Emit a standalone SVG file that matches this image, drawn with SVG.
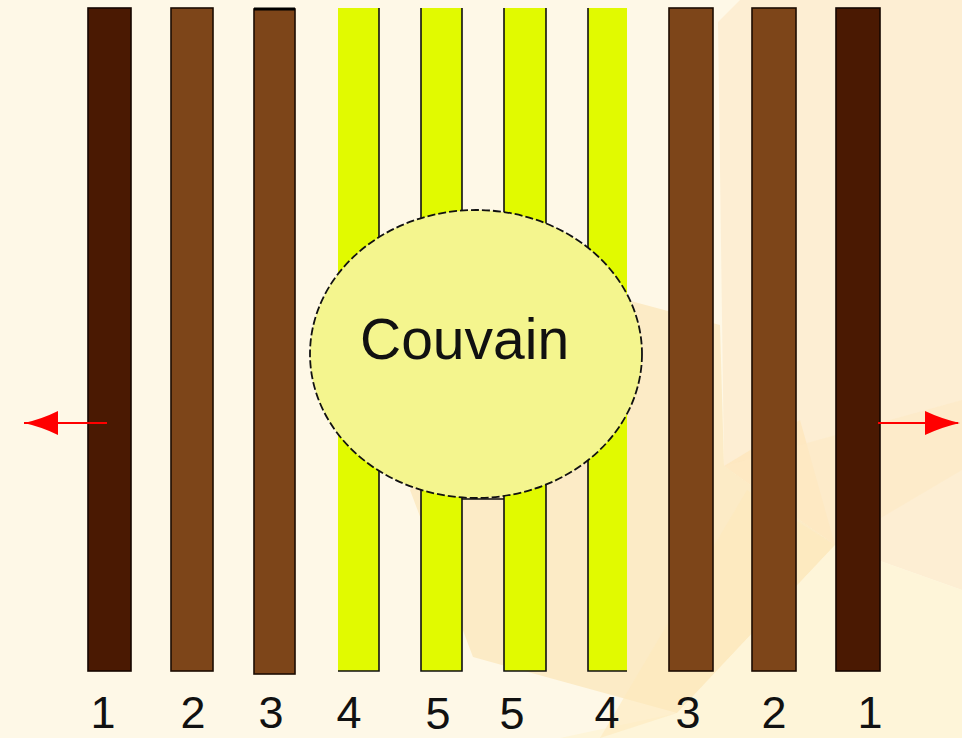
<svg xmlns="http://www.w3.org/2000/svg" width="962" height="738" viewBox="0 0 962 738">
  <style>
    .dark { fill: #4a1902; stroke: #140600; stroke-width: 1.6; }
    .mid { fill: #7d4519; stroke: #1c0c02; stroke-width: 1.6; }
    .yel { fill: #e1fa00; }
    .edge { stroke: #111; stroke-width: 1.6; fill: none; }
    .num { font-family: "Liberation Sans", Arial, sans-serif; font-size: 45px; fill: #111; text-anchor: middle; }
    .arrow { stroke: #ff0000; stroke-width: 2; fill: none; }
    .head { fill: #ff0000; }
  </style>

  <g id="background">
    <rect x="0" y="0" width="962" height="738" fill="#fef8e7"/>
    <polygon points="740,0 962,0 962,590 835,545 724,466 718,22" fill="#fdeed3"/>
    <polygon points="560,282 720,325 724,466 835,545 677,713 473,657 410,490" fill="#fcebc6"/>
    <polygon points="724,466 800,420 835,545" fill="#fde6b9" opacity="0.7"/>
    <polygon points="677,713 835,545 962,590 962,738 560,738" fill="#fef5d9"/>
    <polygon points="600,738 747,490 835,545 677,713" fill="#fde9bd" opacity="0.6"/>
    <polygon points="962,400 962,470 835,545 724,466" fill="#fde9c5" opacity="0.6"/>
  </g>

  <g id="bar-1-left"><rect class="dark" x="88" y="8" width="43" height="663"/></g>
  <g id="bar-2-left"><rect class="mid" x="171" y="8" width="42" height="663"/></g>
  <g id="bar-3-left">
    <rect class="mid" x="254" y="9" width="41" height="665"/>
    <line x1="254" y1="9" x2="295" y2="9" stroke="#000" stroke-width="3"/>
  </g>
  <g id="bar-4-left">
    <rect class="yel" x="338" y="8" width="41" height="663"/>
    <path class="edge" d="M379,8 V671 H338"/>
  </g>
  <g id="bar-5-left">
    <rect class="yel" x="421" y="8" width="41" height="663"/>
    <path class="edge" d="M421,8 V671 H462 V8"/>
  </g>
  <g id="bar-5-right">
    <rect class="yel" x="504" y="8" width="42" height="663"/>
    <path class="edge" d="M504,8 V671 H546 V8"/>
  </g>
  <g id="link-5">
    <line class="edge" x1="462" y1="499" x2="504" y2="499"/>
  </g>
  <g id="bar-4-right">
    <rect class="yel" x="588" y="8" width="39" height="663"/>
    <path class="edge" d="M588,8 V671 H627"/>
  </g>
  <g id="bar-3-right"><rect class="mid" x="669" y="8" width="44" height="663"/></g>
  <g id="bar-2-right"><rect class="mid" x="752" y="8" width="44" height="663"/></g>
  <g id="bar-1-right"><rect class="dark" x="836" y="8" width="44" height="663"/></g>

  <g id="couvain">
    <ellipse cx="476" cy="354" rx="166" ry="144" fill="#f4f58e" stroke="#111" stroke-width="1.8" stroke-dasharray="8 3"/>
    <text x="360" y="359" font-family="Liberation Sans, Arial, sans-serif" font-size="57" fill="#111">Couvain</text>
  </g>

  <g id="connectors">
    <line class="arrow" x1="107" y1="423" x2="24" y2="423"/>
    <path class="head" d="M24,423 Q42,419 58,411 L58,435 Q42,427 24,423 Z"/>
    <line class="arrow" x1="878" y1="423" x2="958" y2="423"/>
    <path class="head" d="M960,423 Q942,419 925,411 L925,435 Q942,427 960,423 Z"/>
  </g>

  <g id="labels">
    <text class="num" x="103" y="728">1</text>
    <text class="num" x="193" y="728">2</text>
    <text class="num" x="271" y="728">3</text>
    <text class="num" x="349" y="728" font-size="49">4</text>
    <text class="num" x="438" y="729">5</text>
    <text class="num" x="512" y="729">5</text>
    <text class="num" x="607" y="728" font-size="49">4</text>
    <text class="num" x="688" y="728">3</text>
    <text class="num" x="774" y="728">2</text>
    <text class="num" x="870" y="728">1</text>
  </g>
</svg>
